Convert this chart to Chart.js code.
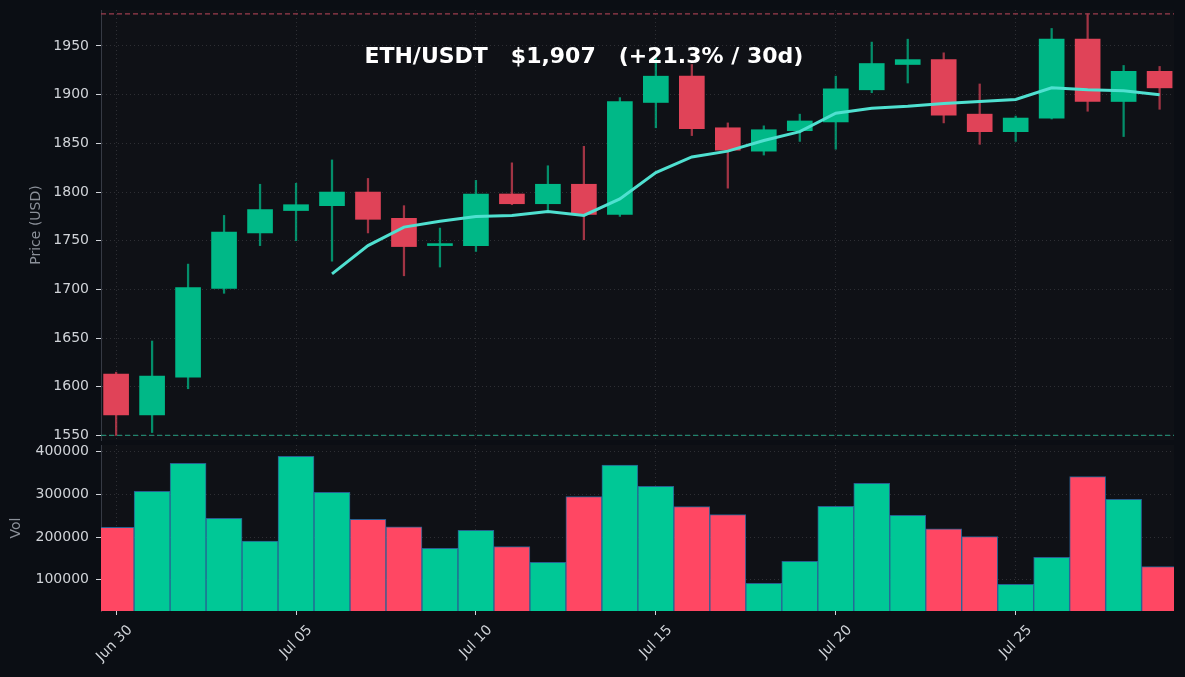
<!DOCTYPE html>
<html lang="en">
<head>
<meta charset="utf-8">
<title>ETH/USDT</title>
<style>
  html, body { margin: 0; padding: 0; background: #0b0e14; }
  #wrap { position: relative; width: 1185px; height: 677px; overflow: hidden; }
  #price { position: absolute; left: 0; top: 0; }
  #vol { position: absolute; left: 0; top: 442px; }
</style>
</head>
<body>
<div id="wrap">
  <canvas id="price" width="1185" height="442"></canvas>
  <canvas id="vol" width="1185" height="235"></canvas>
</div>
<script src="https://cdn.jsdelivr.net/npm/chart.js@4.4.0/dist/chart.umd.min.js"></script>
<script>
// daily candles, Jun 30 -> Jul 29
const dates = ["Jun 30", "Jul 01", "Jul 02", "Jul 03", "Jul 04", "Jul 05", "Jul 06", "Jul 07", "Jul 08", "Jul 09",
               "Jul 10", "Jul 11", "Jul 12", "Jul 13", "Jul 14", "Jul 15", "Jul 16", "Jul 17", "Jul 18", "Jul 19",
               "Jul 20", "Jul 21", "Jul 22", "Jul 23", "Jul 24", "Jul 25", "Jul 26", "Jul 27", "Jul 28", "Jul 29"];
const opens  = [1613, 1571, 1610, 1701, 1758, 1781, 1786, 1800, 1773, 1745, 1745, 1798, 1788, 1808, 1777,
                1892, 1919, 1866, 1842, 1863, 1872, 1905, 1931, 1936, 1880, 1862, 1876, 1957, 1893, 1924];
const highs  = [1615, 1647, 1726, 1776, 1808, 1809, 1833, 1814, 1786, 1763, 1812, 1830, 1827, 1847, 1897,
                1940, 1931, 1871, 1868, 1880, 1919, 1954, 1957, 1943, 1911, 1878, 1968, 1983, 1930, 1929];
const lows   = [1550, 1553, 1598, 1696, 1745, 1750, 1729, 1758, 1714, 1723, 1739, 1787, 1780, 1751, 1775,
                1866, 1858, 1804, 1838, 1852, 1844, 1902, 1912, 1871, 1849, 1852, 1875, 1883, 1857, 1885];
const closes = [1571, 1611, 1702, 1759, 1782, 1787, 1800, 1772, 1744, 1746, 1798, 1788, 1808, 1777, 1893,
                1919, 1865, 1843, 1864, 1873, 1906, 1932, 1936, 1879, 1862, 1876, 1957, 1893, 1924, 1907];
const ma7    = [null, null, null, null, null, null, 1716, 1745, 1764, 1770, 1775, 1776, 1780, 1776, 1793,
                1820, 1836, 1842, 1853, 1862, 1881, 1886, 1888, 1891, 1893, 1895, 1907, 1905, 1904, 1900];
const volumes = [222800, 307200, 372800, 243900, 190700, 389200, 304900, 241600, 224200, 173600,
                 215800, 177400, 140800, 294600, 368900, 318900, 271100, 252400, 91500, 143100,
                 272000, 326000, 251000, 219500, 200800, 89200, 152500, 341400, 288400, 130500];

const xTicks = [0, 5, 10, 15, 20, 25];
const priceTicks = [1550, 1600, 1650, 1700, 1750, 1800, 1850, 1900, 1950];
const volTicks = [100000, 200000, 300000, 400000];
const titleText = "ETH/USDT   $1,907   (+21.3% / 30d)";

const X_MIN = -0.42, X_MAX = 29.4;
const UP = '#00b887', DOWN = '#e04358';
const UP_WICK = 'rgba(0,184,135,0.75)', DOWN_WICK = 'rgba(224,67,88,0.7)';
const VOL_UP = '#00c896', VOL_DOWN = '#ff4763';
const GRID = 'rgba(255,255,255,0.13)';
const TICK_TXT = '#d0d3d8';

Chart.defaults.font.family = '"DejaVu Sans", sans-serif';
Chart.defaults.font.size = 14;
Chart.defaults.color = TICK_TXT;

const isUp = closes.map((c, i) => c >= opens[i]);
const maxHigh = Math.max(...highs);
const minLow = Math.min(...lows);

const plotBg = {
    id: 'plotBg',
    beforeDraw(chart) {
        const { ctx, chartArea: a } = chart;
        ctx.save();
        ctx.fillStyle = '#0f1116';
        ctx.fillRect(a.left, a.top, a.right - a.left, a.bottom - a.top);
        ctx.restore();
    }
};

const titlePlugin = {
    id: 'titleText',
    afterDatasetsDraw(chart) {
        const { ctx, chartArea: a } = chart;
        ctx.save();
        ctx.font = 'bold 22px "DejaVu Sans"';
        ctx.fillStyle = '#ffffff';
        ctx.textAlign = 'center';
        ctx.textBaseline = 'middle';
        ctx.fillText(titleText, a.left + 0.45 * (a.right - a.left), 57);
        ctx.restore();
    }
};

// keep the plot edges where we want them: no label overhang padding
function fixY(w) {
    return s => { s.width = w; s.paddingTop = 0; s.paddingBottom = 0; };
}

function xScale(showLabels) {
    return {
        type: 'linear',
        min: X_MIN,
        max: X_MAX,
        offset: false,
        afterBuildTicks: s => { s.ticks = xTicks.map(v => ({ value: v })); },
        afterFit: s => { s.height = showLabels ? 66 : 0; s.paddingLeft = 0; s.paddingRight = 0; },
        grid: { color: GRID, offset: false, drawTicks: showLabels, tickLength: 4, tickColor: TICK_TXT },
        border: { display: false, dash: [1, 3] },
        ticks: {
            display: showLabels,
            maxRotation: 45,
            minRotation: 45,
            padding: 7,
            labelOffset: 14,
            color: TICK_TXT,
            callback: v => dates[v]
        }
    };
}

new Chart(document.getElementById('price'), {
    type: 'bar',
    data: {
        datasets: [
            {
                type: 'line',
                label: 'MA7',
                data: ma7.map((v, i) => ({ x: i, y: v })),
                borderColor: '#4fe0d0',
                borderWidth: 3,
                pointRadius: 0,
                tension: 0,
                order: 1
            },
            {
                type: 'line',
                label: 'max',
                data: [{ x: X_MIN, y: maxHigh }, { x: X_MAX, y: maxHigh }],
                borderColor: '#9c3d4d',
                borderWidth: 1.2,
                borderDash: [5, 3],
                pointRadius: 0,
                order: 2
            },
            {
                type: 'line',
                label: 'min',
                data: [{ x: X_MIN, y: minLow }, { x: X_MAX, y: minLow }],
                borderColor: '#22836d',
                borderWidth: 1.2,
                borderDash: [5, 3],
                pointRadius: 0,
                order: 2
            },
            {
                label: 'body',
                data: opens.map((o, i) => ({ x: i, y: [o, closes[i]] })),
                backgroundColor: isUp.map(u => u ? UP : DOWN),
                barThickness: 25,
                minBarLength: 2,
                grouped: false,
                order: 3
            },
            {
                label: 'wick',
                data: lows.map((l, i) => ({ x: i, y: [l, highs[i]] })),
                backgroundColor: isUp.map(u => u ? UP_WICK : DOWN_WICK),
                barThickness: 1.6,
                grouped: false,
                order: 4
            }
        ]
    },
    options: {
        responsive: false,
        animation: false,
        layout: { padding: { left: 0, right: 11, top: 10, bottom: 2 } },
        plugins: { legend: { display: false }, tooltip: { enabled: false } },
        scales: {
            x: xScale(false),
            y: {
                min: minLow * 0.997,
                max: maxHigh * 1.002,
                afterBuildTicks: s => { s.ticks = priceTicks.map(v => ({ value: v })); },
                afterFit: fixY(101),
                grid: { color: GRID, tickLength: 5, tickColor: TICK_TXT },
                border: { display: true, color: '#363a44', dash: [1, 3] },
                ticks: { padding: 7, color: TICK_TXT, callback: v => String(v) },
                title: {
                    display: true,
                    text: 'Price (USD)',
                    color: '#8b9099',
                    font: { size: 14 },
                    padding: { top: 28, bottom: 0 }
                }
            }
        }
    },
    plugins: [plotBg, titlePlugin]
});

new Chart(document.getElementById('vol'), {
    type: 'bar',
    data: {
        datasets: [{
            label: 'Vol',
            data: volumes.map((v, i) => ({ x: i, y: v })),
            backgroundColor: isUp.map(u => u ? VOL_UP : VOL_DOWN),
            borderColor: 'rgba(45,115,175,0.8)',
            borderWidth: 1,
            barPercentage: 1,
            categoryPercentage: 1,
            grouped: false
        }]
    },
    options: {
        responsive: false,
        animation: false,
        layout: { padding: { left: 0, right: 11, top: 3, bottom: 0 } },
        plugins: { legend: { display: false }, tooltip: { enabled: false } },
        scales: {
            x: xScale(true),
            y: {
                min: 26640,
                max: 415700,
                afterBuildTicks: s => { s.ticks = volTicks.map(v => ({ value: v })); },
                afterFit: fixY(101),
                grid: { color: GRID, tickLength: 5, tickColor: TICK_TXT },
                border: { display: true, color: '#363a44', dash: [1, 3] },
                ticks: { padding: 7, color: TICK_TXT, callback: v => String(v) },
                title: {
                    display: true,
                    text: 'Vol',
                    color: '#8b9099',
                    font: { size: 14 },
                    padding: { top: 8, bottom: 0 }
                }
            }
        }
    },
    plugins: [plotBg]
});
</script>
</body>
</html>
